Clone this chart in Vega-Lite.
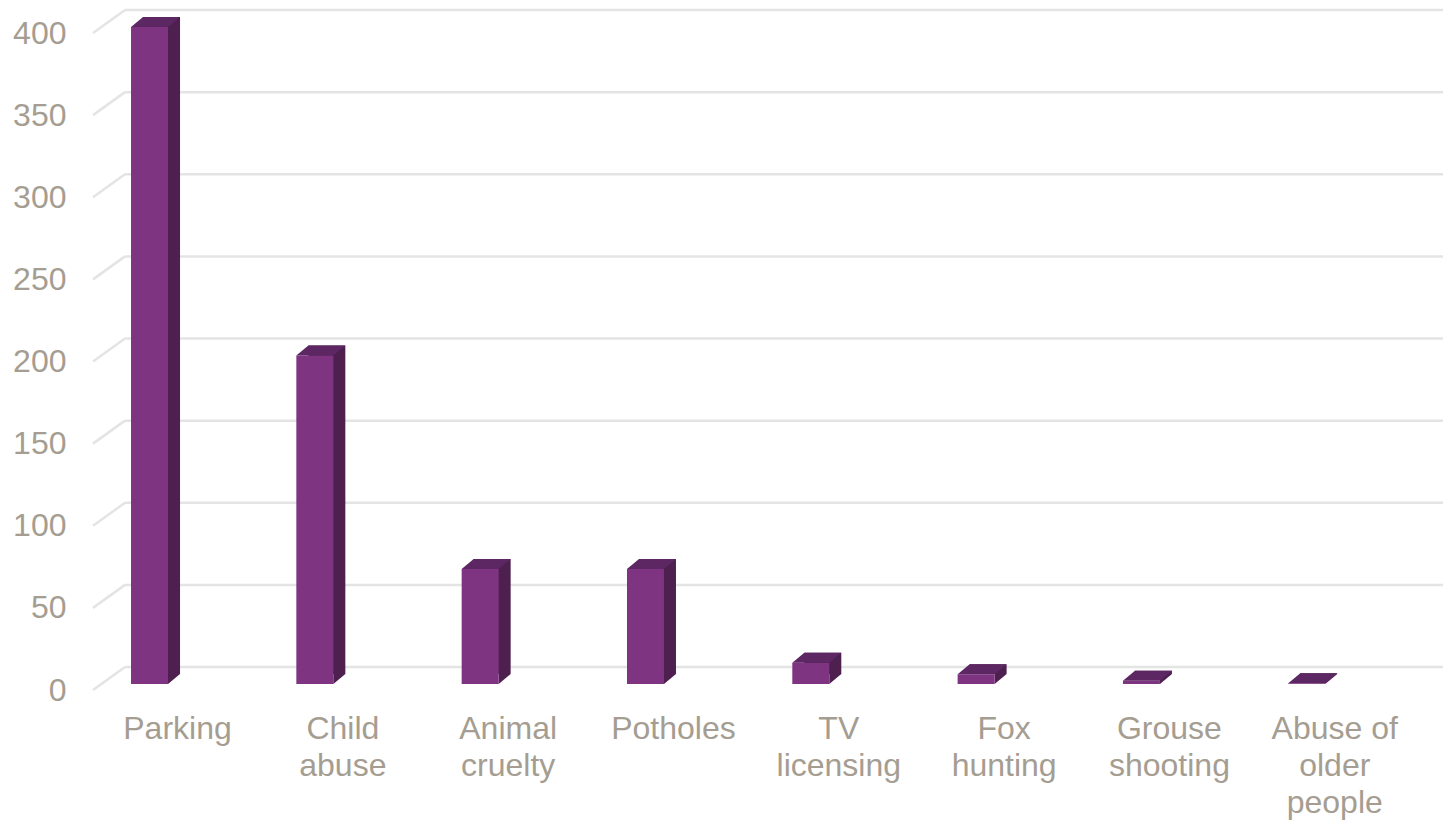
{
  "$schema": "https://vega.github.io/schema/vega-lite/v6.json",
  "autosize": {"type": "none"},
  "width": 1350,
  "height": 657,
  "padding": {"left": 93, "top": 27, "right": 0, "bottom": 136},
  "background": "white",
  "config": {
    "view": {"stroke": null},
    "axis": {"grid": false, "labelFont": "Liberation Sans", "titleFont": "Liberation Sans"}
  },
  "datasets": {
    "bars": [
      {"issue": "Parking", "value": 400},
      {"issue": "Child abuse", "value": 200},
      {"issue": "Animal cruelty", "value": 70},
      {"issue": "Potholes", "value": 70},
      {"issue": "TV licensing", "value": 13},
      {"issue": "Fox hunting", "value": 6},
      {"issue": "Grouse shooting", "value": 2},
      {"issue": "Abuse of older people", "value": 0.5}
    ],
    "grid": [
      {"v": 0}, {"v": 50}, {"v": 100}, {"v": 150}, {"v": 200},
      {"v": 250}, {"v": 300}, {"v": 350}, {"v": 400}
    ]
  },
  "resolve": {"scale": {"x": "independent", "y": "shared"}, "axis": {"x": "independent", "y": "shared"}},
  "layer": [
    {
      "data": {"name": "grid"},
      "mark": {"type": "rule", "color": "#E4E4E4", "strokeWidth": 2.5, "yOffset": -17},
      "encoding": {
        "x": {"datum": 32, "type": "quantitative", "scale": {"domain": [0, 1350], "nice": false, "zero": false}, "axis": null},
        "x2": {"datum": 1350},
        "y": {"field": "v", "type": "quantitative", "scale": {"domain": [0, 400], "nice": false},
          "axis": {
            "orient": "left",
            "title": null, "domain": false, "ticks": false, "grid": false,
            "values": [0, 50, 100, 150, 200, 250, 300, 350, 400],
            "labelFontSize": 32, "labelColor": "#A59D91", "labelPadding": 27, "labelOffset": 6
          }
        }
      }
    },
    {
      "data": {"name": "grid"},
      "mark": {"type": "rule", "color": "#E4E4E4", "strokeWidth": 2.5, "yOffset": 6, "y2Offset": -17},
      "encoding": {
        "x": {"datum": 0, "type": "quantitative", "scale": {"domain": [0, 1350], "nice": false, "zero": false}, "axis": null},
        "x2": {"datum": 32},
        "y": {"field": "v", "type": "quantitative"},
        "y2": {"field": "v"}
      }
    },
    {
      "data": {"name": "bars"},
      "layer": [
        {
          "mark": {"type": "bar", "width": 37, "color": "#4E2050", "xOffset": 12, "yOffset": -10, "y2Offset": -10},
          "encoding": {
            "x": {"field": "issue", "type": "nominal", "sort": null,
              "scale": {"paddingInner": 0.5, "paddingOuter": 0.333, "align": 0.138},
              "axis": {
                "title": null, "domain": false, "ticks": false,
                "labelAngle": 0, "labelFontSize": 32, "labelColor": "#A59D91",
                "labelOffset": 28, "labelPadding": 29, "labelLineHeight": 37,
                "labelBaseline": "top", "labelLimit": 300,
                "labelExpr": "datum.label == 'Abuse of older people' ? ['Abuse of', 'older', 'people'] : split(datum.label, ' ')"
              }
            },
            "y": {"field": "value", "type": "quantitative"}
          }
        },
        {
          "mark": {"type": "point", "shape": "M18.5,-10 L30.5,-10 L18.5,0 Z", "size": 4, "filled": true, "opacity": 1, "color": "#4E2050", "strokeWidth": 0},
          "encoding": {
            "x": {"field": "issue", "type": "nominal", "sort": null},
            "y": {"datum": 0, "type": "quantitative"}
          }
        },
        {
          "mark": {"type": "bar", "width": 37, "color": "#7E3481"},
          "encoding": {
            "x": {"field": "issue", "type": "nominal", "sort": null},
            "y": {"field": "value", "type": "quantitative"}
          }
        },
        {
          "mark": {"type": "point", "shape": "M-18.5,0 L-6.5,-10 L30.5,-10 L18.5,0 Z", "size": 4, "filled": true, "opacity": 1, "color": "#5C2762", "strokeWidth": 0},
          "encoding": {
            "x": {"field": "issue", "type": "nominal", "sort": null},
            "y": {"field": "value", "type": "quantitative"}
          }
        }
      ]
    }
  ]
}
